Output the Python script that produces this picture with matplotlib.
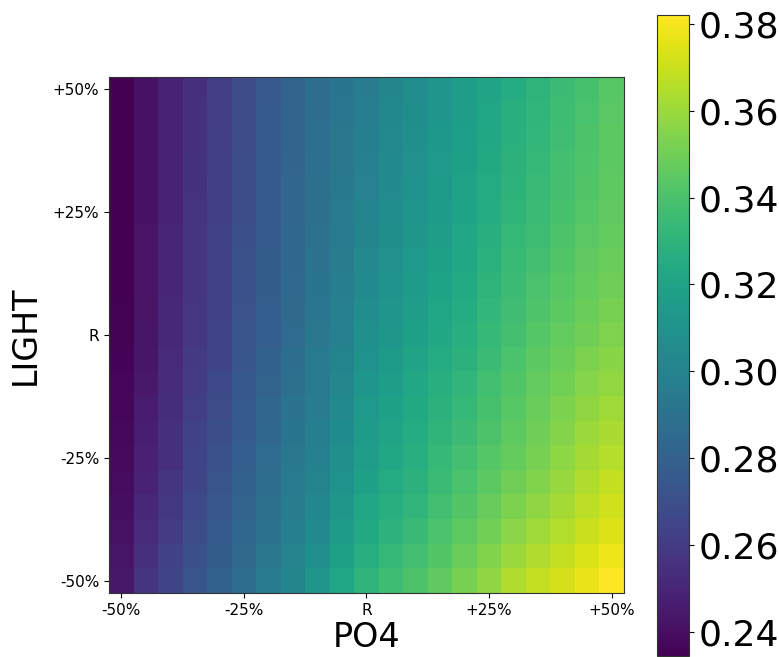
import numpy as np
import matplotlib
matplotlib.use("Agg")
import matplotlib.pyplot as plt

# axis levels (percent change from reference run R)
po4_labels = ["-50%", "-25%", "R", "+25%", "+50%"]
light_labels = ["+50%", "+25%", "R", "-25%", "-50%"]

# response grid: rows from LIGHT +50% (top) down to -50% (bottom),
# columns from PO4 -50% (left) to +50% (right), 21 levels each
response = [
    [.2345, .2419, .2493, .2552, .2611, .2684, .2758, .2817, .2876, .2920, .2965, .3024, .3068, .3112, .3164, .3208, .3260, .3304, .3355, .3392, .3437],
    [.2345, .2419, .2493, .2555, .2614, .2687, .2761, .2820, .2879, .2926, .2974, .3033, .3077, .3121, .3171, .3218, .3270, .3313, .3362, .3399, .3441],
    [.2345, .2419, .2493, .2558, .2617, .2690, .2764, .2823, .2882, .2932, .2983, .3042, .3086, .3130, .3179, .3229, .3280, .3322, .3370, .3407, .3446],
    [.2345, .2419, .2493, .2560, .2619, .2693, .2767, .2826, .2885, .2938, .2991, .3050, .3094, .3138, .3186, .3239, .3291, .3330, .3377, .3414, .3450],
    [.2345, .2419, .2493, .2563, .2622, .2696, .2770, .2829, .2888, .2944, .3000, .3059, .3103, .3147, .3194, .3250, .3301, .3339, .3385, .3422, .3455],
    [.2345, .2419, .2493, .2566, .2625, .2699, .2773, .2832, .2891, .2950, .3009, .3068, .3112, .3156, .3201, .3260, .3311, .3348, .3392, .3429, .3459],
    [.2346, .2420, .2497, .2569, .2628, .2705, .2776, .2838, .2900, .2959, .3024, .3080, .3127, .3171, .3216, .3275, .3326, .3364, .3407, .3444, .3474],
    [.2348, .2422, .2502, .2572, .2631, .2711, .2779, .2844, .2909, .2968, .3039, .3092, .3142, .3186, .3230, .3289, .3341, .3380, .3422, .3459, .3488],
    [.2349, .2423, .2506, .2575, .2634, .2717, .2782, .2849, .2917, .2976, .3053, .3103, .3156, .3200, .3245, .3304, .3355, .3397, .3436, .3473, .3503],
    [.2351, .2425, .2511, .2578, .2637, .2723, .2785, .2855, .2926, .2985, .3068, .3115, .3171, .3215, .3259, .3319, .3370, .3413, .3451, .3488, .3517],
    [.2352, .2426, .2515, .2581, .2640, .2729, .2788, .2861, .2935, .2994, .3083, .3127, .3186, .3230, .3274, .3333, .3385, .3429, .3466, .3503, .3532],
    [.2358, .2436, .2522, .2593, .2655, .2741, .2803, .2876, .2947, .3012, .3101, .3148, .3204, .3251, .3295, .3352, .3403, .3447, .3487, .3527, .3557],
    [.2364, .2447, .2530, .2605, .2670, .2753, .2817, .2891, .2959, .3030, .3118, .3168, .3221, .3271, .3316, .3371, .3420, .3465, .3507, .3550, .3582],
    [.2370, .2457, .2537, .2616, .2684, .2764, .2832, .2905, .2970, .3047, .3136, .3189, .3239, .3292, .3336, .3391, .3438, .3482, .3528, .3574, .3608],
    [.2376, .2468, .2545, .2628, .2699, .2776, .2846, .2920, .2982, .3065, .3153, .3209, .3256, .3312, .3357, .3410, .3455, .3500, .3548, .3597, .3633],
    [.2382, .2478, .2552, .2640, .2714, .2788, .2861, .2935, .2994, .3083, .3171, .3230, .3274, .3333, .3378, .3429, .3473, .3518, .3569, .3621, .3658],
    [.2391, .2491, .2567, .2653, .2727, .2801, .2874, .2948, .3012, .3103, .3191, .3250, .3294, .3352, .3399, .3451, .3499, .3543, .3592, .3644, .3682],
    [.2401, .2507, .2586, .2669, .2743, .2817, .2890, .2964, .3033, .3127, .3215, .3274, .3318, .3375, .3424, .3478, .3529, .3574, .3620, .3672, .3711],
    [.2413, .2525, .2607, .2687, .2761, .2835, .2908, .2982, .3057, .3153, .3241, .3300, .3344, .3400, .3452, .3507, .3563, .3608, .3651, .3703, .3744],
    [.2426, .2544, .2629, .2707, .2780, .2854, .2928, .3002, .3083, .3182, .3271, .3330, .3374, .3428, .3483, .3540, .3601, .3645, .3685, .3737, .3780],
    [.2441, .2566, .2655, .2729, .2802, .2876, .2950, .3024, .3112, .3215, .3304, .3363, .3407, .3459, .3518, .3577, .3643, .3687, .3724, .3776, .3820],
]
cbar_ticks = [0.24, 0.26, 0.28, 0.30, 0.32, 0.34, 0.36, 0.38]

data = np.array(response)
n = data.shape[0]

fig = plt.figure(figsize=(7.79, 6.57), dpi=100)
ax = fig.add_axes([0.1399, 0.0974, 0.6611, 0.7854])
cax = fig.add_axes([0.8434, 0.0015, 0.0411, 0.9756])

im = ax.imshow(data, cmap="viridis", aspect="auto", interpolation="nearest")

tick_pos = np.linspace(0, n - 1, len(po4_labels))
ax.set_xticks(tick_pos)
ax.set_xticklabels(po4_labels, fontsize=11)
ax.set_yticks(tick_pos)
ax.set_yticklabels(light_labels, fontsize=11)
ax.set_xlabel("PO4", fontsize=24, labelpad=2)
ax.set_ylabel("LIGHT", fontsize=24, labelpad=8)
for s in ax.spines.values():
    s.set_color("#333333")

cb = fig.colorbar(im, cax=cax)
cb.set_ticks(cbar_ticks)
cb.ax.tick_params(labelsize=26)
cb.outline.set_edgecolor("#333333")

fig.savefig("out.png", dpi=100)
